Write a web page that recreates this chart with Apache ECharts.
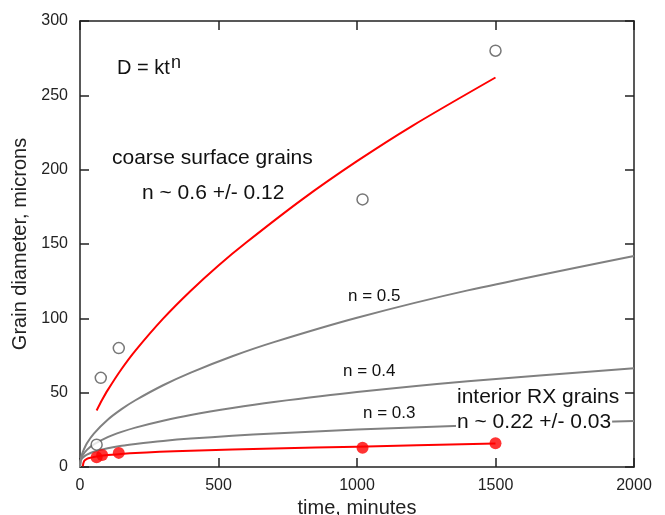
<!DOCTYPE html>
<html><head><meta charset="utf-8">
<script src="https://cdn.jsdelivr.net/npm/echarts@6/dist/echarts.min.js"></script>
<style>html,body{margin:0;padding:0;background:#fff}#c{width:665px;height:515px}</style>
</head><body><div id="c"></div>
<script>
// Measured points
const coarseT = [60, 75, 140, 1020, 1500];
const coarseD = [15, 60, 80, 180, 280];
const interiorT = [60, 80, 140, 1020, 1500];
const interiorD = [6.5, 8, 9.5, 13, 16];

// Fit curve (coarse surface grains, n ~ 0.6)
const coarseFitT = [60, 80, 100, 150, 200, 300, 400, 500, 600, 800, 1000, 1200, 1500];
const coarseFitD = [38, 45.2, 51.7, 65.9, 78.3, 99.8, 118.6, 135.6, 151, 179.7, 205.7, 229.5, 262];

// Fit curve (interior RX grains, n ~ 0.22)
const interiorFitT = [10, 15, 25, 40, 60, 100, 200, 400, 700, 1000, 1500];
const interiorFitD = [0.5, 4, 5.5, 6.3, 7, 8, 9.5, 11, 12.5, 13.7, 15.8];

// Reference curves
const refT = [0, 2, 5, 10, 25, 50, 100, 150, 200, 300, 400, 550, 700, 1000, 1400, 2000];
const ref05 = [0, 4.5, 7.1, 10, 15.9, 22.5, 31.8, 38.9, 44.9, 55.0, 63.5, 74.5, 84, 100.4, 118.8, 142];
const ref04 = [0, 4.2, 6.1, 8.0, 11.5, 15.2, 20.1, 23.6, 26.5, 31.1, 35.0, 39.7, 43.7, 50.4, 57.7, 66.5];
const ref03 = [0, 3.9, 5.1, 6.3, 8.3, 10.3, 12.6, 14.3, 15.5, 17.5, 19.1, 21.0, 22.6, 25.2, 27.9, 31.0];

const xTicks = [0, 500, 1000, 1500, 2000];
const yTicks = [0, 50, 100, 150, 200, 250, 300];

const zip = (a, b) => a.map((v, i) => [v, b[i]]);
const FONT = '"Liberation Sans", Arial, sans-serif';
const plain = v => String(v);
const axisCommon = {
  type: 'value',
  axisLine: { show: true, onZero: false, lineStyle: { color: '#222', width: 1.5 } },
  axisTick: { show: true, inside: true, length: 9, lineStyle: { color: '#222', width: 1.5 } },
  splitLine: { show: false },
  axisLabel: { fontFamily: FONT, fontSize: 16, color: '#222', formatter: plain }
};
const lineSeries = (t, d, color, z) => ({
  type: 'line', data: zip(t, d), smooth: 0.3, showSymbol: false, symbol: 'none',
  lineStyle: { color: color, width: 2 }, z: z
});

const chart = echarts.init(document.getElementById('c'));
chart.setOption({
  animation: false,
  backgroundColor: '#fff',
  grid: { left: 80, top: 21, right: 31, bottom: 48, containLabel: false, outerBoundsMode: 'none' },
  xAxis: [
    Object.assign({}, axisCommon, {
      position: 'bottom', min: xTicks[0], max: xTicks[xTicks.length - 1], interval: 500,
      name: 'time, minutes', nameLocation: 'middle', nameGap: 24,
      nameTextStyle: { fontFamily: FONT, fontSize: 20, color: '#222' },
      axisLabel: { fontFamily: FONT, fontSize: 16, color: '#222', margin: 11, formatter: plain }
    }),
    Object.assign({}, axisCommon, {
      position: 'top', min: 0, max: 2000, interval: 500, axisLabel: { show: false }
    })
  ],
  yAxis: [
    Object.assign({}, axisCommon, {
      position: 'left', min: yTicks[0], max: yTicks[yTicks.length - 1], interval: 50,
      name: 'Grain diameter, microns', nameLocation: 'middle', nameGap: 45,
      nameTextStyle: { fontFamily: FONT, fontSize: 20, color: '#222' },
      axisLabel: { fontFamily: FONT, fontSize: 16, color: '#222', margin: 12, formatter: plain }
    }),
    Object.assign({}, axisCommon, {
      position: 'right', min: 0, max: 300, interval: 50, axisLabel: { show: false }
    })
  ],
  series: [
    lineSeries(refT, ref05, '#808080', 2),
    lineSeries(refT, ref04, '#808080', 2),
    lineSeries(refT, ref03, '#808080', 2),
    lineSeries(coarseFitT, coarseFitD, '#ff0000', 3),
    lineSeries(interiorFitT, interiorFitD, '#ff0000', 3),
    { type: 'scatter', data: zip(coarseT, coarseD), symbol: 'circle', symbolSize: 11,
      itemStyle: { color: '#fff', borderColor: '#555', borderWidth: 1.5 }, z: 4 },
    { type: 'scatter', data: zip(interiorT, interiorD), symbol: 'circle', symbolSize: 12,
      itemStyle: { color: '#ff0000', borderColor: '#ff0000', borderWidth: 0 }, z: 4 }
  ],
  graphic: [
    { type: 'text', left: 117, top: 58, z: 100, style: { text: 'D = kt', font: '20px ' + FONT, fill: '#111' } },
    { type: 'text', left: 171, top: 54, z: 100, style: { text: 'n', font: '18px ' + FONT, fill: '#111' } },
    { type: 'text', left: 112, top: 148, z: 100, style: { text: 'coarse surface grains', font: '21px ' + FONT, fill: '#111' } },
    { type: 'text', left: 142, top: 183, z: 100, style: { text: 'n ~ 0.6 +/- 0.12', font: '21px ' + FONT, fill: '#111' } },
    { type: 'text', left: 348, top: 288, z: 100, style: { text: 'n = 0.5', font: '17px ' + FONT, fill: '#111' } },
    { type: 'text', left: 343, top: 363, z: 100, style: { text: 'n = 0.4', font: '17px ' + FONT, fill: '#111' } },
    { type: 'text', left: 363, top: 405, z: 100, style: { text: 'n = 0.3', font: '17px ' + FONT, fill: '#111' } },
    { type: 'text', left: 457, top: 387, z: 100, style: { text: 'interior RX grains', font: '21px ' + FONT, fill: '#111' } },
    { type: 'text', left: 456, top: 412, z: 100, style: { text: 'n ~ 0.22 +/- 0.03', font: '21px ' + FONT, fill: '#111', backgroundColor: '#fff', padding: [0, 1, 0, 1] } }
  ]
});
</script>
</body></html>
